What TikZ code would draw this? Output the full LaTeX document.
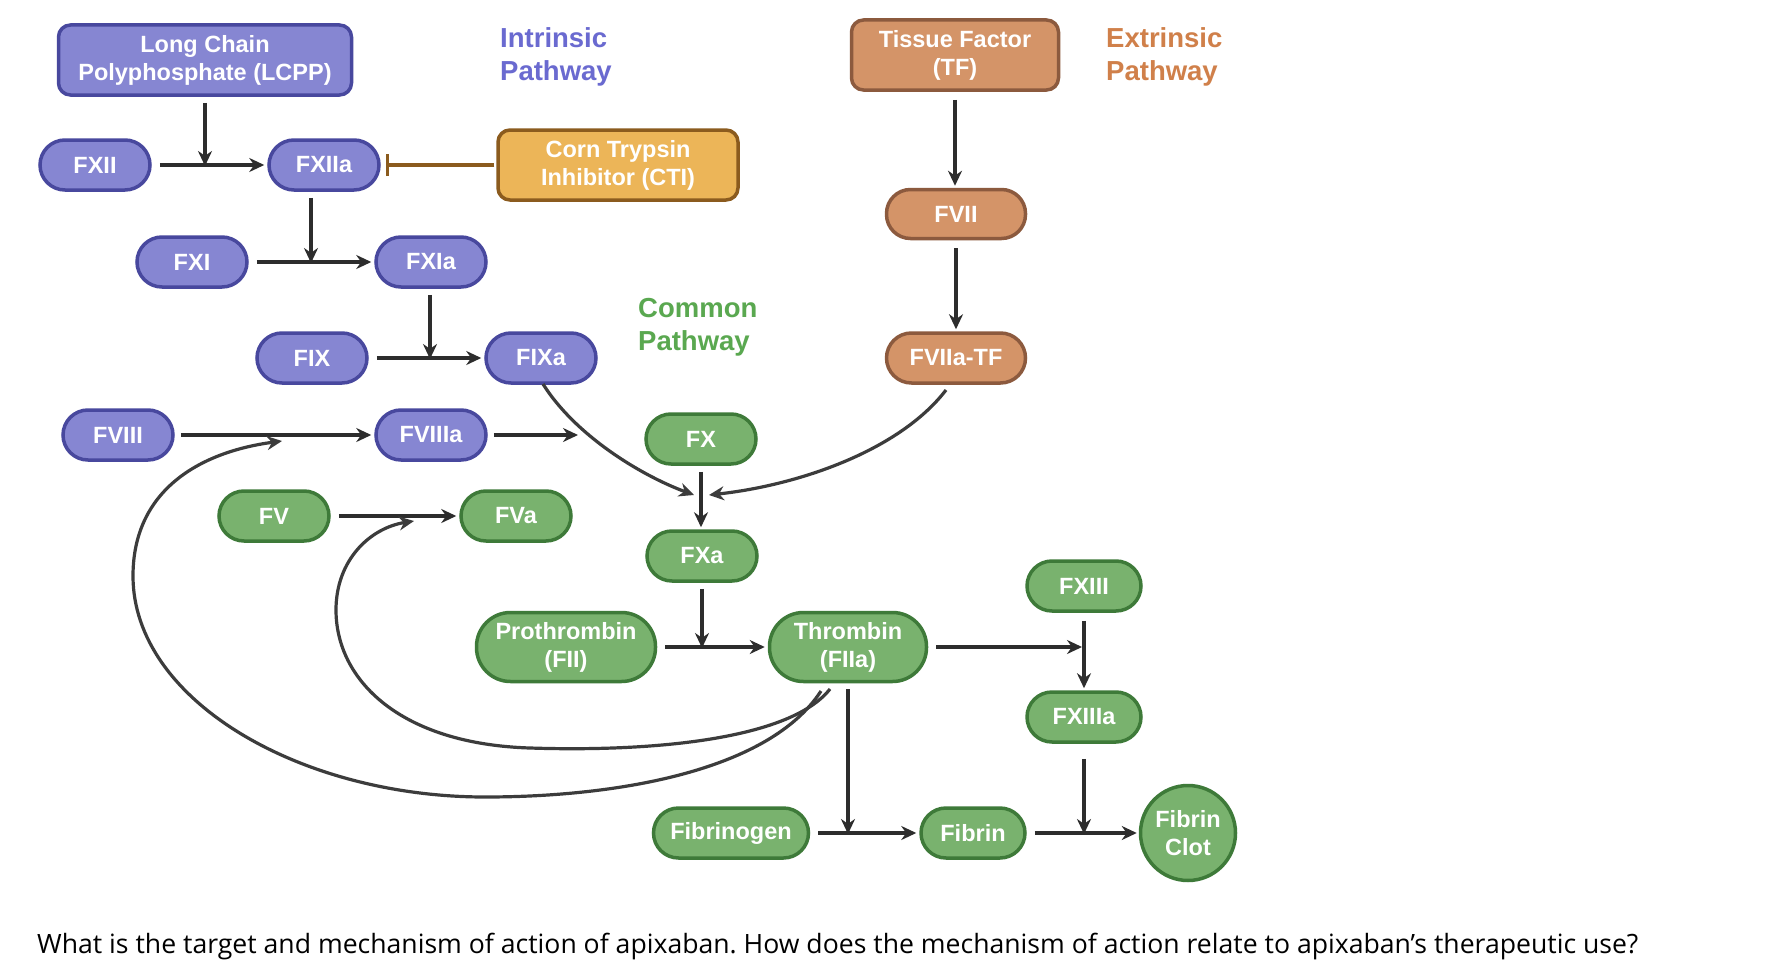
\documentclass[tikz,border=0pt]{standalone}
\usepackage{fontspec}
\usetikzlibrary{arrows.meta,shapes.geometric}
\newfontfamily\libsans{Liberation Sans}
\newfontfamily\opensans{Open Sans}
\frenchspacing
\definecolor{pfill}{RGB}{134,134,210}
\definecolor{pdraw}{RGB}{72,72,158}
\definecolor{ptext}{RGB}{106,106,208}
\definecolor{ofill}{RGB}{212,148,104}
\definecolor{odraw}{RGB}{140,90,62}
\definecolor{otext}{RGB}{208,128,74}
\definecolor{yfill}{RGB}{236,181,88}
\definecolor{ydraw}{RGB}{139,91,30}
\definecolor{gfill}{RGB}{121,178,110}
\definecolor{gdraw}{RGB}{62,122,57}
\definecolor{gtext}{RGB}{90,168,80}
\definecolor{arrc}{RGB}{45,45,45}
\definecolor{curvc}{RGB}{60,60,60}
\begin{document}
\begin{tikzpicture}[x=1pt,y=-1pt,
  nd/.style={draw, line width=3.5pt, text=white, align=center, inner sep=0pt,
    font=\libsans\bfseries\fontsize{23.5pt}{28pt}\selectfont},
  pill/.style={nd, rounded corners=25pt, minimum width=110pt, minimum height=50pt},
  bigpill/.style={nd, rounded corners=34pt, minimum height=69pt},
  boxn/.style={nd, rounded corners=12pt, minimum height=70pt},
  pur/.style={fill=pfill, draw=pdraw},
  ora/.style={fill=ofill, draw=odraw},
  yel/.style={fill=yfill, draw=ydraw},
  grn/.style={fill=gfill, draw=gdraw},
  head/.style={align=left, inner sep=0pt, anchor=west,
    font=\libsans\bfseries\fontsize{27.5pt}{33pt}\selectfont},
  arr/.style={draw=arrc, line width=3.8pt, -{Stealth[length=15pt,width=14pt]}},
  curv/.style={draw=curvc, line width=3.2pt, -{Stealth[length=15pt,width=14pt]}},
  inh/.style={draw=ydraw, line width=3.5pt, -{Bar[width=22pt]}}
]
\useasboundingbox[fill=white] (0,0) rectangle (1770,974);

% headings
\node[head, text=ptext] (hint) at (500,57) {Intrinsic\\Pathway};
\node[head, text=otext] (hext) at (1106,57) {Extrinsic\\Pathway};
\node[head, text=gtext] (hcom) at (638,327) {Common\\Pathway};

% intrinsic
\node[boxn, pur, minimum width=293pt] (lcpp) at (205,60) {Long Chain\\Polyphosphate (LCPP)};
\node[pill, pur] (fxii) at (95,165) {FXII};
\node[pill, pur] (fxiia) at (324,165) {FXIIa};
\node[boxn, yel, minimum width=240pt] (cti) at (618,165) {Corn Trypsin\\Inhibitor (CTI)};
\node[pill, pur] (fxi) at (192,262) {FXI};
\node[pill, pur] (fxia) at (431,262) {FXIa};
\node[pill, pur] (fix) at (312,358) {FIX};
\node[pill, pur] (fixa) at (541,358) {FIXa};
\node[pill, pur] (fviii) at (118,435) {FVIII};
\node[pill, pur] (fviiia) at (431,435) {FVIIIa};

% extrinsic
\node[boxn, ora, minimum width=207pt] (tf) at (955,55) {Tissue Factor\\(TF)};
\node[pill, ora, minimum width=139pt, minimum height=49pt, rounded corners=24pt] (fvii) at (956,214) {FVII};
\node[pill, ora, minimum width=139pt] (fviiatf) at (956,358) {FVIIa-TF};

% common
\node[pill, grn] (fx) at (701,439) {FX};
\node[pill, grn] (fv) at (274,516) {FV};
\node[pill, grn] (fva) at (516,516) {FVa};
\node[pill, grn] (fxa) at (702,556) {FXa};
\node[pill, grn, minimum width=114pt] (fxiii) at (1084,586) {FXIII};
\node[bigpill, grn, minimum width=179pt] (proth) at (566,647) {Prothrombin\\(FII)};
\node[bigpill, grn, minimum width=157pt] (thr) at (848,647) {Thrombin\\(FIIa)};
\node[pill, grn, minimum width=114pt] (fxiiia) at (1084,717) {FXIIIa};
\node[pill, grn, minimum width=155pt] (fbg) at (731,833) {Fibrinogen};
\node[pill, grn, minimum width=104pt] (fbn) at (973,833) {Fibrin};
\node[nd, grn, circle, minimum size=95pt] (clot) at (1188,833) {Fibrin\\Clot};

% question
\node[anchor=base west, inner sep=0pt, font=\opensans\fontsize{26.6pt}{32pt}\selectfont] (q) at (37,953)
  {What is the target and mechanism of action of apixaban. How does the mechanism of action relate to apixaban’s therapeutic use?};

% intrinsic connectors
\draw[arr, shorten <=8pt, shorten >=3pt] (fxii) -- (fxiia);
\draw[arr, shorten <=6pt, shorten >=-1pt] (lcpp.south) -- (lcpp.south |- fxii);
\draw[inh, shorten <=2pt, shorten >=5pt] (cti) -- (fxiia);
\draw[arr, shorten <=8pt, shorten >=3pt] (fxi) -- (fxia);
\draw[arr, shorten <=6pt, shorten >=-1pt] ([xshift=-13pt]fxiia.south) -- ([xshift=-13pt]fxiia.south |- fxi);
\draw[arr, shorten <=8pt, shorten >=3pt] (fix) -- (fixa);
\draw[arr, shorten <=6pt, shorten >=-1pt] ([xshift=-1pt]fxia.south) -- ([xshift=-1pt]fxia.south |- fix);
\draw[arr, shorten <=6pt, shorten >=3pt] (fviii) -- (fviiia);
\coordinate (fvend) at (578,435);
\draw[arr, shorten <=6pt] (fviiia) -- (fvend);

% extrinsic connectors
\draw[arr, shorten <=8pt, shorten >=2pt] (tf) -- (tf.south |- fvii.north);
\draw[arr, shorten <=8pt, shorten >=2pt] (fvii) -- (fvii.south |- fviiatf.north);

% convergence on FX
\coordinate (jl) at (694,495);
\coordinate (jr) at (709,495);
\draw[curv] (543,384) .. controls (575,435) and (640,475) .. (jl);
\draw[curv] (946,390) .. controls (900,450) and (800,485) .. (jr);
\draw[arr, shorten <=6pt, shorten >=2pt] (fx) -- (fx.south |- fxa.north);

% common connectors
\draw[arr, shorten <=8pt, shorten >=3pt] (fv) -- (fva);
\draw[arr, shorten <=6pt, shorten >=-1pt] (fxa) -- (fxa.south |- proth);
\draw[arr, shorten <=8pt, shorten >=3pt] (proth) -- (thr);
\draw[arr, shorten <=8pt, shorten >=2pt] (thr) -- (thr.east -| fxiii);
\draw[arr, shorten <=8pt, shorten >=2pt] (fxiii) -- (fxiii.south |- fxiiia.north);
\draw[arr, shorten <=6pt, shorten >=-1pt] (thr) -- (thr.south |- fbg);
\draw[arr, shorten <=8pt, shorten >=3pt] (fbg) -- (fbn);
\draw[arr, shorten <=15pt, shorten >=-1pt] (fxiiia) -- (fxiiia.south |- fbn);
\draw[arr, shorten <=8pt, shorten >=2pt] (fbn) -- (clot);

% feedback from thrombin
\coordinate (fbin) at (414,521);
\coordinate (fbout) at (282,441);
\draw[curv] (830,689) .. controls (790,740) and (650,752) .. (530,748)
  .. controls (400,744) and (336,680) .. (336,610)
  .. controls (336,560) and (370,528) .. (fbin);
\draw[curv] (821,691) .. controls (770,770) and (620,797) .. (485,797)
  .. controls (300,797) and (133,700) .. (133,576)
  .. controls (133,490) and (200,452) .. (fbout);
\end{tikzpicture}
\end{document}
